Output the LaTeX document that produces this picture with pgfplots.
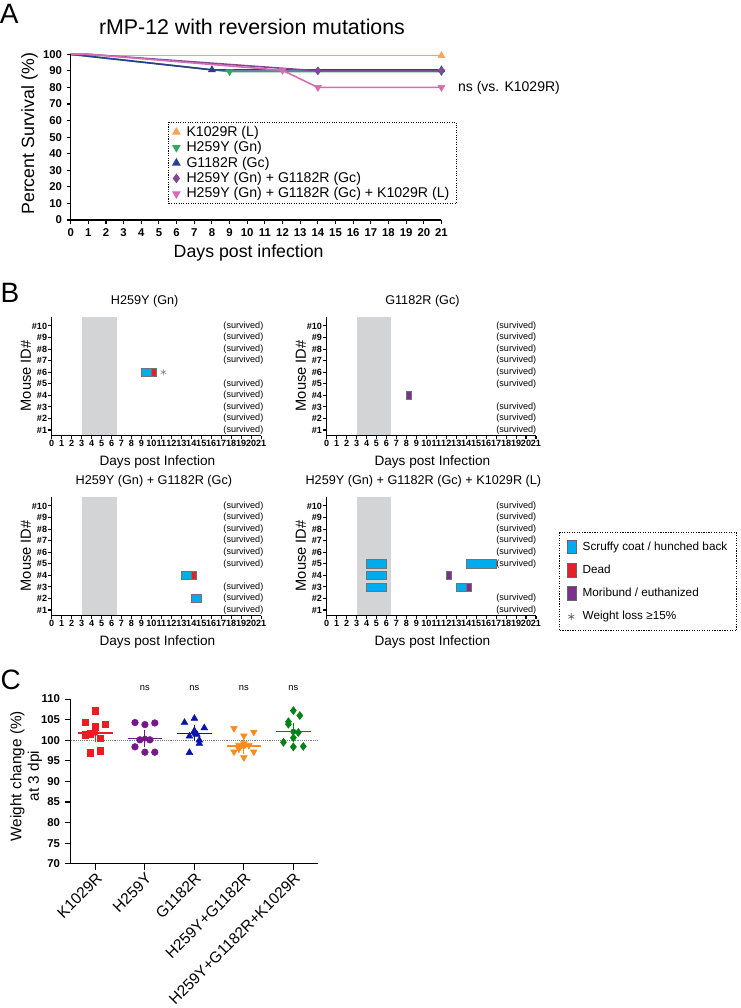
\documentclass[border=0pt]{standalone}
\usepackage{fontspec}
\setmainfont{Liberation Sans}
\usepackage{pgfplots}
\pgfplotsset{compat=1.18}

\definecolor{cK}{RGB}{243,166,88}
\definecolor{cH}{RGB}{52,168,92}
\definecolor{cG}{RGB}{44,62,142}
\definecolor{cHG}{RGB}{128,72,150}
\definecolor{cHGK}{RGB}{214,108,180}
\definecolor{bcyan}{RGB}{0,172,235}
\definecolor{bred}{RGB}{228,32,40}
\definecolor{bpur}{RGB}{122,48,140}
\definecolor{band}{RGB}{211,212,214}
\definecolor{Cred}{RGB}{236,28,36}
\definecolor{Cpur}{RGB}{118,24,140}
\definecolor{Cblue}{RGB}{10,20,170}
\definecolor{Corange}{RGB}{250,140,30}
\definecolor{Cgreen}{RGB}{0,130,20}

\tikzset{sv/.style={anchor=east, font=\fontsize{6.8}{7}\selectfont, inner sep=0pt}}
\pgfplotsset{
  gp/.style={
    scale only axis, axis lines*=left,
    axis line style={line width=0.9pt},
    every tick/.style={line width=0.8pt, black},
    tick align=outside,
    /pgf/number format/assume math mode=true,
    clip=false, axis on top,
    every axis title shift=0pt,
  },
  bp/.style={gp, width=157pt, height=88.9pt,
    xmin=0, xmax=21, ymin=0.5, ymax=10.75,
    xtick={0,...,21}, ytick={1,...,10},
    yticklabels={\#1,\#2,\#3,\#4,\#5,\#6,\#7,\#8,\#9,\#10},
    major tick length=2.5pt,
    ticklabel style={font=\bfseries\fontsize{6.8}{7}\selectfont, inner sep=0.8pt},
    xlabel={Days post Infection}, ylabel={Mouse ID\#},
    xlabel style={at={(axis description cs:0.505,-0.2186)}, anchor=center, font=\fontsize{10.2}{12}\selectfont},
    ylabel style={at={(axis description cs:-0.123,0.506)}, anchor=center, font=\fontsize{11}{12}\selectfont},
    title style={anchor=center, font=\fontsize{9.5}{11}\selectfont},
  },
  barc/.style={fill=bcyan, draw=black!55, line width=0.4pt, forget plot},
  barr/.style={fill=bred, draw=black!55, line width=0.4pt, forget plot},
  barp/.style={fill=bpur, draw=black!55, line width=0.4pt, forget plot},
  bandst/.style={fill=band, draw=none, forget plot},
}

\begin{document}
\begin{tikzpicture}
\useasboundingbox (0,0) rectangle (555.75pt,-756pt);

% panel letters
\node[font=\fontsize{21}{21}\selectfont, anchor=center] at (7pt,-10.5pt) {A};
\node[font=\fontsize{21}{21}\selectfont, anchor=center] at (7.5pt,-219.75pt) {B};
\node[font=\fontsize{21}{21}\selectfont, anchor=center] at (8pt,-510pt) {C};

%%%%%%%%%%%%%%%% Panel A
\begin{axis}[gp, at={(53.0pt,-165pt)}, anchor=south west, width=278.1pt, height=124.3pt,
  xmin=0, xmax=21, ymin=0, ymax=100,
  xtick={0,...,21}, ytick={0,10,...,100},
  major tick length=3pt,
  ticklabel style={font=\bfseries\fontsize{8.5}{9}\selectfont},
  xlabel={Days post infection}, ylabel={Percent Survival (\%)},
  xlabel style={at={(axis description cs:0.48,-0.199)}, anchor=center, font=\fontsize{13.3}{14}\selectfont},
  ylabel style={at={(axis description cs:-0.1108,0.52)}, anchor=center, font=\fontsize{13.3}{14}\selectfont},
  title={rMP-12 with reversion mutations},
  title style={at={(axis description cs:0.489,1.165)}, anchor=center, font=\fontsize{16}{18}\selectfont},
  legend style={at={(axis description cs:0.2635,0.593)}, anchor=north west, draw=black, densely dotted, line width=0.8pt,
    font=\fontsize{10.6}{11}\selectfont, row sep=0.8pt, column sep=3pt, inner xsep=3pt, inner ysep=2pt,
    nodes={inner ysep=0.8pt, inner xsep=2pt}},
  legend cell align=left,
]
\addplot[cK, line width=1.2pt, forget plot] coordinates {(0,99.2)(21,99.2)};
\addplot[cH, line width=1.2pt, forget plot] coordinates {(0,100)(9,89.5)(21,89.5)};
\addplot[cG, line width=1.2pt, forget plot] coordinates {(0,100)(8,90.6)(21,90.6)};
\addplot[cHG, line width=1.2pt, forget plot] coordinates {(0,100)(1,100)(14,90)(21,90)};
\addplot[cHGK, line width=1.2pt, forget plot] coordinates {(0,100)(1,100)(12,90.3)(14,80)(21,80)};

\addplot[cK, only marks, mark=triangle*, mark size=3pt, mark options={solid}] coordinates {(21,99.2)};
\addlegendentry{K1029R (L)}
\addplot[cH, only marks, mark=triangle*, mark size=3pt, mark options={solid, rotate=180}] coordinates {(9,89.5)(21,89.5)};
\addlegendentry{H259Y (Gn)}
\addplot[cG, only marks, mark=triangle*, mark size=3pt, mark options={solid}] coordinates {(8,90.6)(21,90.6)};
\addlegendentry{G1182R (Gc)}
\addplot[cHG, only marks, mark=diamond*, mark size=3pt, mark options={solid}] coordinates {(14,90)(21,90)};
\addlegendentry{H259Y (Gn) + G1182R (Gc)}
\addplot[cHGK, only marks, mark=triangle*, mark size=3pt, mark options={solid, rotate=180}] coordinates {(12,90.3)(14,80)(21,80)};
\addlegendentry{H259Y (Gn) + G1182R (Gc) + K1029R (L)}

\node[anchor=west, font=\fontsize{10.5}{11}\selectfont, inner sep=0pt] at (axis cs:21.93,80) {ns (vs. K1029R)};
\end{axis}

%%%%%%%%%%%%%%%% Panel B top-left
\begin{axis}[bp, at={(38.8pt,-326.85pt)}, anchor=south west,
  title={H259Y (Gn)}, title style={at={(axis description cs:0.444,1.132)}}]
\addplot[bandst] coordinates {(3,0.5)(6.5,0.5)(6.5,10.75)(3,10.75)} -- cycle;
\addplot[barc] coordinates {(9,5.65)(10,5.65)(10,6.35)(9,6.35)} -- cycle;
\addplot[barr] coordinates {(10,5.65)(10.45,5.65)(10.45,6.35)(10,6.35)} -- cycle;
\addplot[only marks, mark=asterisk, mark size=2.4pt, gray, forget plot] coordinates {(11.2,6)};
\pgfplotsinvokeforeach{1,2,3,4,5,7,8,9,10}{\node[sv] at (axis cs:21.25,#1) {(survived)};}
\end{axis}

%%%%%%%%%%%%%%%% Panel B top-right
\begin{axis}[bp, at={(245pt,-326.85pt)}, anchor=south west,
  title={G1182R (Gc)}, title style={at={(axis description cs:0.4576,1.132)}}]
\addplot[bandst] coordinates {(3,0.5)(6.5,0.5)(6.5,10.75)(3,10.75)} -- cycle;
\addplot[barp] coordinates {(7.95,3.65)(8.45,3.65)(8.45,4.35)(7.95,4.35)} -- cycle;
\pgfplotsinvokeforeach{1,2,3,5,6,7,8,9,10}{\node[sv] at (axis cs:21.05,#1) {(survived)};}
\end{axis}

%%%%%%%%%%%%%%%% Panel B bottom-left
\begin{axis}[bp, at={(38.8pt,-461.85pt)}, anchor=south west,
  title={H259Y (Gn) + G1182R (Gc)}, title style={at={(axis description cs:0.488,1.1376)}}]
\addplot[bandst] coordinates {(3,0.5)(6.5,0.5)(6.5,10.75)(3,10.75)} -- cycle;
\addplot[barc] coordinates {(13,3.65)(14,3.65)(14,4.35)(13,4.35)} -- cycle;
\addplot[barr] coordinates {(14,3.65)(14.5,3.65)(14.5,4.35)(14,4.35)} -- cycle;
\addplot[barc] coordinates {(14,1.65)(15,1.65)(15,2.35)(14,2.35)} -- cycle;
\pgfplotsinvokeforeach{1,2,3,5,6,7,8,9,10}{\node[sv] at (axis cs:21.25,#1) {(survived)};}
\end{axis}

%%%%%%%%%%%%%%%% Panel B bottom-right
\begin{axis}[bp, at={(245pt,-461.85pt)}, anchor=south west,
  title={H259Y (Gn) + G1182R (Gc) + K1029R (L)}, title style={at={(axis description cs:0.462,1.1376)}},
  legend style={at={(axis description cs:1.111,0.7046)}, anchor=north west, draw=black, densely dotted, line width=0.9pt,
    font=\fontsize{8.8}{10}\selectfont, row sep=5.6pt, inner xsep=5pt, inner ysep=4.5pt, column sep=3pt},
  legend cell align=left,
]
\addlegendimage{legend image code/.code={\draw[solid, fill=bcyan, draw=black!60, line width=0.4pt] (0pt,-5pt) rectangle (6.75pt,5pt);}}
\addlegendentry{Scruffy coat / hunched back}
\addlegendimage{legend image code/.code={\draw[solid, fill=bred, draw=black!60, line width=0.4pt] (0pt,-5pt) rectangle (6.75pt,5pt);}}
\addlegendentry{Dead}
\addlegendimage{legend image code/.code={\draw[solid, fill=bpur, draw=black!60, line width=0.4pt] (0pt,-5pt) rectangle (6.75pt,5pt);}}
\addlegendentry{Moribund / euthanized}
\addlegendimage{legend image code/.code={\draw[solid, black!60, line width=0.5pt] plot[only marks, mark=asterisk, mark size=2.6pt] coordinates {(3.4pt,0pt)};}}
\addlegendentry{Weight loss ≥15\%}
\addplot[bandst] coordinates {(3,0.5)(6.5,0.5)(6.5,10.75)(3,10.75)} -- cycle;
\addplot[barc] coordinates {(4,4.65)(6,4.65)(6,5.35)(4,5.35)} -- cycle;
\addplot[barc] coordinates {(4,3.65)(6,3.65)(6,4.35)(4,4.35)} -- cycle;
\addplot[barc] coordinates {(4,2.65)(6,2.65)(6,3.35)(4,3.35)} -- cycle;
\addplot[barc] coordinates {(14,4.65)(17,4.65)(17,5.35)(14,5.35)} -- cycle;
\addplot[barp] coordinates {(12,3.65)(12.5,3.65)(12.5,4.35)(12,4.35)} -- cycle;
\addplot[barc] coordinates {(13,2.65)(14,2.65)(14,3.35)(13,3.35)} -- cycle;
\addplot[barp] coordinates {(14,2.65)(14.5,2.65)(14.5,3.35)(14,3.35)} -- cycle;
\pgfplotsinvokeforeach{1,2,5,6,7,8,9,10}{\node[sv] at (axis cs:21.05,#1) {(survived)};}
\end{axis}

%%%%%%%%%%%%%%%% Panel C
\begin{axis}[gp, at={(53.0pt,-647.8pt)}, anchor=south west, width=185.6pt, height=123.5pt,
  xmin=-0.5, xmax=4.5, ymin=70, ymax=110,
  xtick={0,...,4}, ytick={70,75,...,110},
  xticklabels={K1029R,H259Y,G1182R,H259Y+G1182R,H259Y+G1182R+K1029R},
  major tick length=4.5pt,
  y tick label style={font=\bfseries\fontsize{8.5}{9}\selectfont},
  x tick label style={rotate=45, anchor=north east, font=\fontsize{11.6}{12}\selectfont, inner sep=1pt},
  ylabel={Weight change (\%)\\at 3 dpi},
  ylabel style={at={(axis description cs:-0.18,0.532)}, anchor=center, align=center, font=\fontsize{11.5}{13}\selectfont},
]
\addplot[gray, densely dotted, line width=0.4pt, forget plot] coordinates {(-0.5,100)(4.5,100)};
% K1029R
\addplot[Cred, only marks, mark=square*, mark size=2.4pt] coordinates {(0,107.2)(-0.2,104.3)(0,103.3)(0.2,103.9)(-0.2,101.3)(-0.1,101.6)(0.1,100.5)(-0.1,97.0)(0.1,97.4)};
\addplot[Cred, line width=1pt] coordinates {(-0.35,101.8)(0.35,101.8)};
\addplot[Cred, only marks, mark=none, error bars/.cd, y dir=both, y explicit, error bar style={line width=0.8pt}, error mark options={Cred, mark size=3.7pt, line width=0.8pt}] coordinates {(0,101.8) +- (0,1.1)};
% H259Y
\addplot[Cpur, only marks, mark=*, mark size=2.5pt] coordinates {(0.8,104.3)(1,103.8)(1.2,104.2)(0.9,100.1)(1.1,100.1)(0.8,98.4)(1,97.1)(1.2,97.1)};
\addplot[Cpur, line width=1pt] coordinates {(0.65,100.4)(1.35,100.4)};
\addplot[Cpur, only marks, mark=none, error bars/.cd, y dir=both, y explicit, error bar style={line width=0.8pt}, error mark options={Cpur, mark size=3.7pt, line width=0.8pt}] coordinates {(1,100.4) +- (0,0.9)};
% G1182R
\addplot[Cblue, only marks, mark=triangle*, mark size=2.9pt] coordinates {(1.8,104.3)(2,105.3)(2.2,103.0)(1.9,101.0)(2,102.3)(2.05,101.4)(2.1,100.0)(2.1,99.2)(1.9,97.0)};
\addplot[Cblue, line width=1pt] coordinates {(1.65,101.7)(2.35,101.7)};
\addplot[Cblue, only marks, mark=none, error bars/.cd, y dir=both, y explicit, error bar style={line width=0.8pt}, error mark options={Cblue, mark size=3.7pt, line width=0.8pt}] coordinates {(2,101.7) +- (0,0.8)};
% H259Y+G1182R
\addplot[Corange, only marks, mark=triangle*, mark size=2.9pt, mark options={rotate=180}] coordinates {(2.8,102.9)(3,101.1)(3.2,102.0)(2.9,98.8)(3,99.2)(3.1,98.8)(2.8,97.2)(3.2,97.2)(3,95.8)(2.9,97.9)};
\addplot[Corange, line width=1pt] coordinates {(2.65,98.6)(3.35,98.6)};
\addplot[Corange, only marks, mark=none, error bars/.cd, y dir=both, y explicit, error bar style={line width=0.8pt}, error mark options={Corange, mark size=3.7pt, line width=0.8pt}] coordinates {(3,98.6) +- (0,0.7)};
% H259Y+G1182R+K1029R
\addplot[Cgreen, only marks, mark=diamond*, mark size=3pt] coordinates {(4,107.2)(4.13,106.0)(3.9,104.5)(3.9,103.9)(4.1,101.9)(4,100.6)(3.8,99.5)(4,98.4)(4.2,98.5)};
\addplot[Cgreen, line width=1pt] coordinates {(3.65,102.1)(4.35,102.1)};
\addplot[Cgreen, only marks, mark=none, error bars/.cd, y dir=both, y explicit, error bar style={line width=0.8pt}, error mark options={Cgreen, mark size=3.7pt, line width=0.8pt}] coordinates {(4,102.1) +- (0,1.0)};

\pgfplotsinvokeforeach{1,2,3,4}{\node[font=\fontsize{7}{7}\selectfont, anchor=center] at (axis cs:#1,112.6) {ns};}
\end{axis}
\end{tikzpicture}
\end{document}
